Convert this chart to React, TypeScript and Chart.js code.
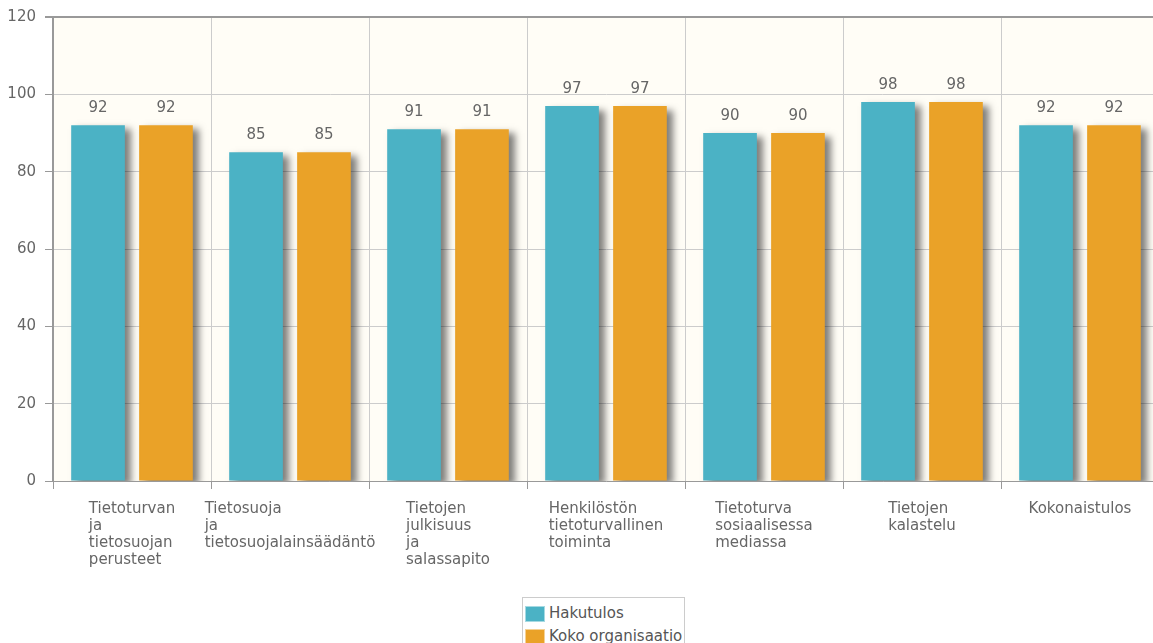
import React, { useEffect, useRef } from "react";
import { Chart, registerables } from "chart.js";

Chart.register(...registerables);

const categories: string[] = [
  "Tietoturvan ja tietosuojan perusteet",
  "Tietosuoja ja tietosuojalainsäädäntö",
  "Tietojen julkisuus ja salassapito",
  "Henkilöstön tietoturvallinen toiminta",
  "Tietoturva sosiaalisessa mediassa",
  "Tietojen kalastelu",
  "Kokonaistulos",
];
const seriesNames: string[] = ["Hakutulos", "Koko organisaatio"];
const hakutulos: number[] = [92, 85, 91, 97, 90, 98, 92];
const kokoOrganisaatio: number[] = [92, 85, 91, 97, 90, 98, 92];
const seriesColors: string[] = ["#4bb2c5", "#EAA228"];
const yMin = 0;
const yMax = 120;
const yStep = 20;

const FONT = "'DejaVu Sans', sans-serif";
const CW = 1159;
const CH = 600;
const PLOT_BOTTOM = 481;
const PLOT_TOP = 17;
const PLOT_LEFT = 53;

export default function App() {
  const ref = useRef<HTMLCanvasElement | null>(null);

  useEffect(() => {
    if (!ref.current) return;
    const bgPlugin = {
      id: "bg",
      beforeDraw(chart: any) {
        const { ctx, chartArea } = chart;
        ctx.save();
        ctx.fillStyle = "#fffdf6";
        ctx.fillRect(chartArea.left, chartArea.top, chartArea.right - chartArea.left, chartArea.bottom - chartArea.top);
        ctx.restore();
      },
      beforeDatasetsDraw(chart: any) {
        const ctx = chart.ctx;
        ctx.save();
        ctx.shadowColor = "rgba(0,0,0,0.5)";
        ctx.shadowOffsetX = 6;
        ctx.shadowOffsetY = 4;
        ctx.shadowBlur = 7;
      },
      afterDatasetsDraw(chart: any) {
        const ctx = chart.ctx;
        ctx.restore();
        ctx.save();
        ctx.font = "15px " + FONT;
        ctx.fillStyle = "#666666";
        ctx.textAlign = "center";
        ctx.textBaseline = "alphabetic";
        chart.data.datasets.forEach((ds: any, di: number) => {
          const meta = chart.getDatasetMeta(di);
          meta.data.forEach((bar: any, i: number) => {
            ctx.fillText(String(ds.data[i]), bar.x, bar.y - 13);
          });
        });
        ctx.restore();
      },
      afterDraw(chart: any) {
        const { ctx } = chart;
        const xs = chart.scales.x;
        ctx.save();
        ctx.font = "15px " + FONT;
        ctx.fillStyle = "#666666";
        ctx.textAlign = "left";
        ctx.textBaseline = "alphabetic";
        (chart.data.labels as string[]).forEach((lab: string, i: number) => {
          const lines = lab.split(" ");
          const w = Math.max(...lines.map((l) => ctx.measureText(l).width));
          const cx = xs.getPixelForTick(i);
          const sx = cx - w / 2;
          lines.forEach((l, j) => {
            ctx.fillText(l, sx, 513 + j * 17);
          });
        });
        ctx.restore();
      },
    };

    const chart = new Chart(ref.current, {
      type: "bar",
      data: {
        labels: categories,
        datasets: [
          {
            label: seriesNames[0],
            data: hakutulos,
            backgroundColor: seriesColors[0],
            borderWidth: 0,
            barPercentage: 0.79,
            categoryPercentage: 0.86,
          },
          {
            label: seriesNames[1],
            data: kokoOrganisaatio,
            backgroundColor: seriesColors[1],
            borderWidth: 0,
            barPercentage: 0.79,
            categoryPercentage: 0.86,
          },
        ],
      },
      options: {
        responsive: false,
        animation: false,
        layout: { padding: { top: PLOT_TOP, left: 0, right: 0, bottom: 0 } },
        plugins: {
          legend: { display: false },
          tooltip: { enabled: false },
        },
        scales: {
          x: {
            grid: {
              offset: true,
              color: "#cccccc",
              tickColor: "#999999",
              tickLength: 8,
              lineWidth: 1,
            },
            border: { color: "#999999", width: 1 },
            ticks: { display: false },
            afterFit(s: any) {
              s.height = CH - PLOT_BOTTOM;
              s.paddingLeft = 0;
              s.paddingRight = 0;
            },
          },
          y: {
            min: yMin,
            max: yMax,
            ticks: { stepSize: yStep, color: "#666666", font: { family: FONT, size: 15 }, padding: 9 },
            grid: {
              color: (c: any) => (c.tick && c.tick.value === yMax ? "#999999" : "#cccccc"),
              lineWidth: (c: any) => (c.tick && c.tick.value === yMax ? 2 : 1),
              tickColor: "#999999",
              tickLength: 8,
            },
            border: { color: "#999999", width: 2 },
            afterFit(s: any) {
              s.width = PLOT_LEFT;
              s.paddingTop = 0;
              s.paddingBottom = 0;
            },
          },
        },
      },
      plugins: [bgPlugin],
    });
    return () => chart.destroy();
  }, []);

  return (
    <div style={{ position: "absolute", left: 0, top: 0, width: 1153, height: 643, overflow: "hidden", background: "#fff" }}>
      <canvas ref={ref} width={CW} height={CH} style={{ position: "absolute", left: 0, top: 0, width: CW, height: CH }} />
      <div
        style={{
          position: "absolute",
          left: 522,
          top: 597,
          border: "1px solid #cccccc",
          background: "#ffffff",
          padding: "4px 2px 0 2px",
          fontFamily: FONT,
          fontSize: 15,
          color: "#555555",
        }}
      >
        {seriesNames.map((n, i) => (
          <div key={n} style={{ display: "flex", alignItems: "center", height: 23 }}>
            <span
              style={{
                display: "inline-block",
                width: 20,
                height: 16,
                background: seriesColors[i],
                marginRight: 4,
                boxSizing: "border-box",
                border: "1px solid rgba(255,255,255,0.5)",
              }}
            />
            <span style={{ lineHeight: "23px", whiteSpace: "nowrap" }}>{n}</span>
          </div>
        ))}
      </div>
    </div>
  );
}
